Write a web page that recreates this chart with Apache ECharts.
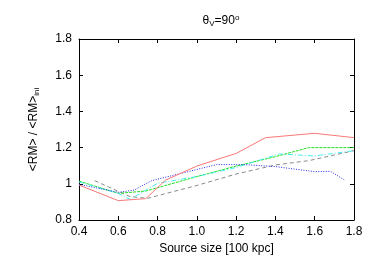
<!DOCTYPE html>
<html><head><meta charset="utf-8">
<script src="https://cdn.jsdelivr.net/npm/echarts@6/dist/echarts.min.js"></script>
<style>html,body{margin:0;padding:0;background:#fff}#c{width:374px;height:262px}</style>
</head><body><div id="c"></div>
<script>
const xTicks = [0.4, 0.6, 0.8, 1.0, 1.2, 1.4, 1.6, 1.8];
const yTicks = [0.8, 1, 1.2, 1.4, 1.6, 1.8];

const redX = [0.4, 0.6, 0.74, 0.84, 1.0, 1.2, 1.35, 1.6, 1.8];
const redY = [0.993, 0.907, 0.918, 1.02, 1.098, 1.168, 1.255, 1.279, 1.255];

const greenX = [0.4, 0.6, 0.74, 1.0, 1.2, 1.4, 1.57, 1.8];
const greenY = [1.015, 0.947, 0.96, 1.04, 1.098, 1.15, 1.2, 1.2];

const cyanX = [0.4, 0.6, 0.66, 0.8, 1.0, 1.2, 1.42, 1.6, 1.8];
const cyanY = [1.01, 0.947, 0.914, 1.003, 1.04, 1.09, 1.165, 1.154, 1.183];

const blueX = [0.4, 0.6, 0.68, 0.77, 0.88, 1.1, 1.24, 1.4, 1.6, 1.68, 1.75];
const blueY = [0.997, 0.953, 0.965, 1.017, 1.047, 1.106, 1.106, 1.095, 1.067, 1.069, 1.022];

const grayX = [0.48, 0.66, 0.75, 1.0, 1.2, 1.4, 1.57, 1.8];
const grayY = [1.017, 0.929, 0.92, 0.991, 1.054, 1.104, 1.128, 1.183];

const zip = (xs, ys) => xs.map((x, i) => [x, ys[i]]);
const font = 'Liberation Sans, Helvetica, Arial, sans-serif';

const mk = (name, xs, ys, color, type) => ({
  name, type: 'line', xAxisIndex: 0, yAxisIndex: 0,
  data: zip(xs, ys), showSymbol: false, symbol: 'none', animation: false,
  lineStyle: { color, width: 1, type }
});

const chart = echarts.init(document.getElementById('c'), null, { renderer: 'canvas' });
chart.setOption({
  animation: false,
  backgroundColor: '#fff',
  title: {
    text: '{t|θ}{s|V}{t|=90}{p|o}',
    left: 216, top: 9, textAlign: 'center',
    textStyle: {
      fontWeight: 'normal',
      rich: {
        t: { fontFamily: font, fontSize: 12, fontWeight: 'normal', color: '#000' },
        s: { fontFamily: font, fontSize: 8, fontWeight: 'normal', color: '#000', verticalAlign: 'bottom', padding: [6, 0, 0, 0] },
        p: { fontFamily: font, fontSize: 8, fontWeight: 'normal', color: '#000', verticalAlign: 'top', padding: [0, 0, 6, 0] }
      }
    }
  },
  grid: { left: 79, right: 20, top: 39, bottom: 42, show: false },
  xAxis: [{
    type: 'value', min: 0.4, max: 1.8, interval: 0.2, position: 'bottom',
    name: 'Source size [100 kpc]', nameLocation: 'middle', nameGap: 23,
    nameTextStyle: { fontFamily: font, fontSize: 12, color: '#000' },
    axisLine: { show: true, lineStyle: { color: '#000', width: 1 } },
    axisTick: { show: true, inside: true, length: 4, lineStyle: { color: '#000' } },
    axisLabel: { fontFamily: font, fontSize: 12, color: '#000', margin: 6,
      formatter: v => xTicks.find(t => Math.abs(t - v) < 1e-6) !== undefined ? v.toFixed(1) : '' },
    splitLine: { show: false }
  }, {
    type: 'value', min: 0.4, max: 1.8, interval: 0.2, position: 'top',
    axisLine: { show: true, lineStyle: { color: '#000', width: 1 } },
    axisTick: { show: true, inside: true, length: 4, lineStyle: { color: '#000' } },
    axisLabel: { show: false }, splitLine: { show: false }
  }],
  yAxis: [{
    type: 'value', min: 0.8, max: 1.8, interval: 0.2, position: 'left',
    name: '{a|<RM> / <RM>}{b|ini}', nameLocation: 'middle', nameGap: 38, nameRotate: 90,
    nameTextStyle: { rich: {
      a: { fontFamily: font, fontSize: 12, color: '#000' },
      b: { fontFamily: font, fontSize: 8, color: '#000', verticalAlign: 'bottom', padding: [6, 0, 0, 0] }
    } },
    axisLine: { show: true, lineStyle: { color: '#000', width: 1 } },
    axisTick: { show: true, inside: true, length: 4, lineStyle: { color: '#000' } },
    axisLabel: { fontFamily: font, fontSize: 12, color: '#000', margin: 7,
      formatter: v => String(parseFloat(v.toFixed(1))) },
    splitLine: { show: false }
  }, {
    type: 'value', min: 0.8, max: 1.8, interval: 0.2, position: 'right',
    axisLine: { show: true, lineStyle: { color: '#000', width: 1 } },
    axisTick: { show: true, inside: true, length: 4, lineStyle: { color: '#000' } },
    axisLabel: { show: false }, splitLine: { show: false }
  }],
  series: [
    mk('gray', grayX, grayY, '#8a8a8a', [4, 3]),
    mk('green', greenX, greenY, '#22e022', [3, 1]),
    mk('cyan', cyanX, cyanY, '#44eeee', [5, 2, 1, 2]),
    mk('blue', blueX, blueY, '#2a2aee', [1, 1.5]),
    mk('red', redX, redY, '#f87878', 'solid')
  ]
});
</script></body></html>
